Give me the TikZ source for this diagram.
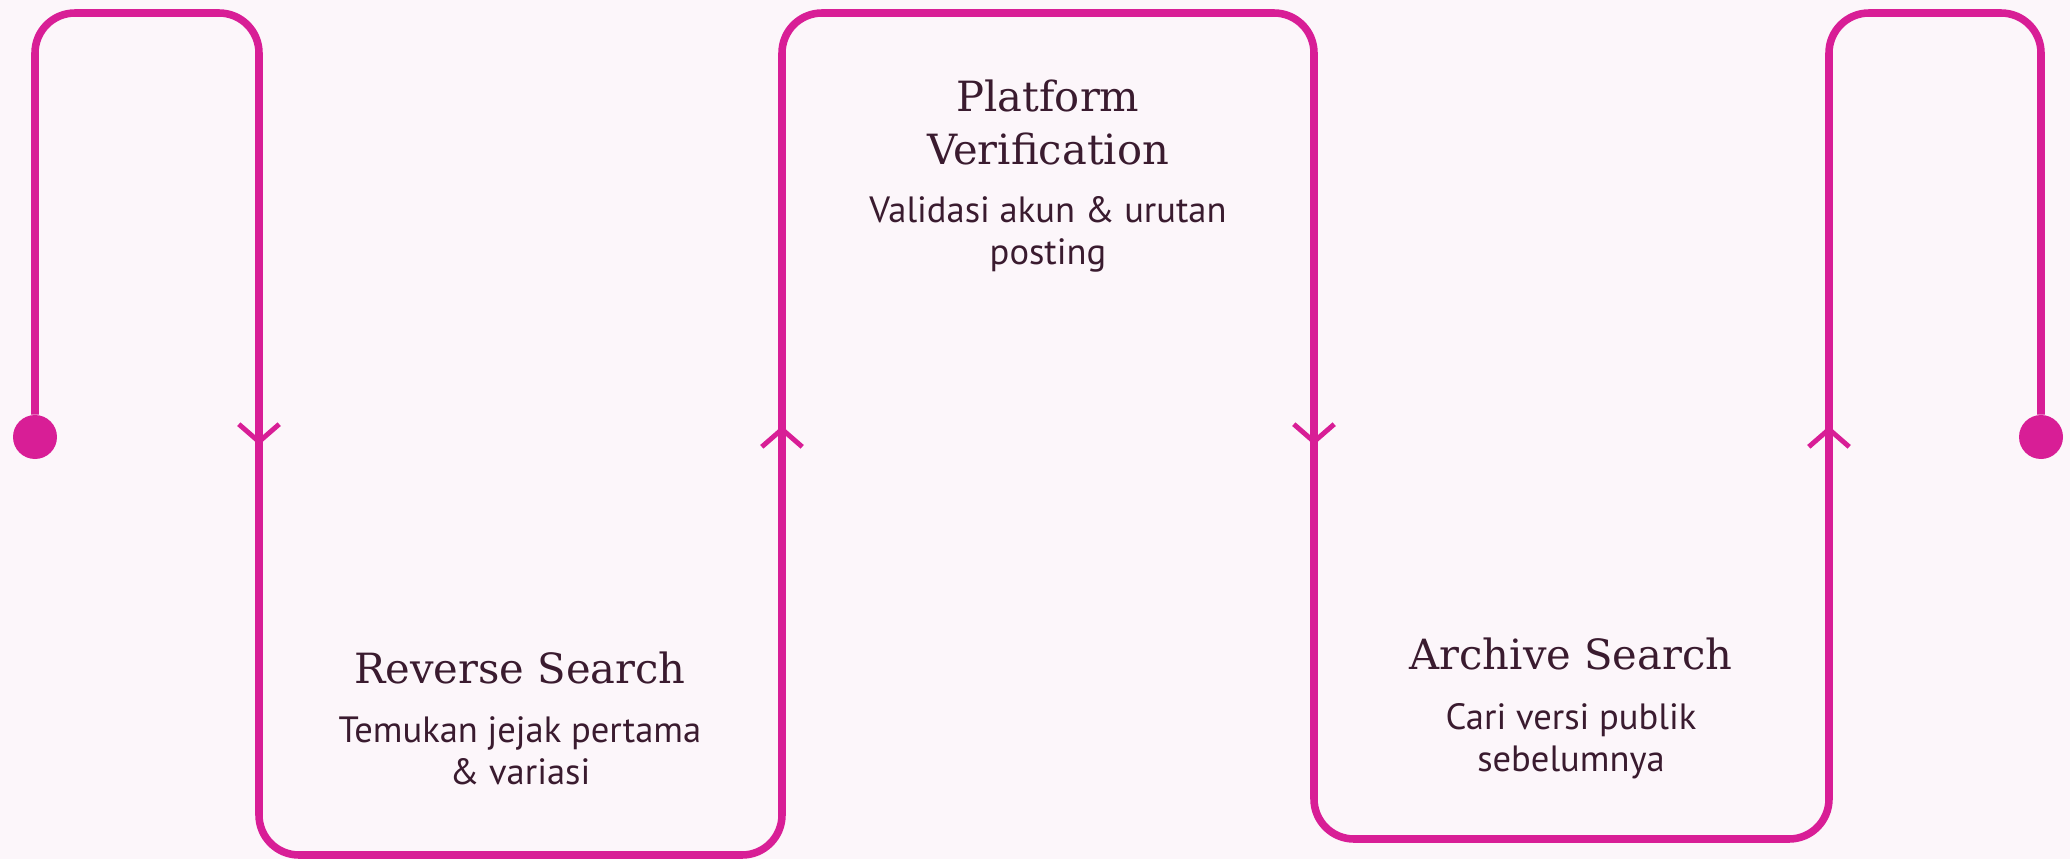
\documentclass[tikz,border=0pt]{standalone}
\usepackage{fontspec}
\newfontfamily\titlefont{DejaVu Serif}
\newfontfamily\descfont{PT Sans}
\usetikzlibrary{arrows.meta}
\definecolor{flowpink}{HTML}{D81E96}
\definecolor{inkplum}{HTML}{3A1B2F}
\definecolor{paper}{HTML}{FCF6FA}

\begin{document}
\begin{tikzpicture}[x=0.02cm, y=-0.02cm,
  flowline/.style = {
    draw = flowpink,
    line width = 4.3pt,
    rounded corners = 0.8cm,
  },
  flowtip/.style = {
    draw = flowpink,
    line width = 4.3pt,
    -{Straight Barb[length=10pt, width=23pt, line width=2.8pt]},
  },
  enddot/.style = {
    circle,
    fill = flowpink,
    inner sep = 0,
    minimum size = 0.88cm,
  },
  steptitle/.style = {
    anchor = base,
    align = center,
    text = inkplum,
    font = \titlefont\fontsize{23.7}{29.6}\selectfont,
  },
  stepdesc/.style = {
    anchor = base,
    align = center,
    text = inkplum,
    font = \descfont\fontsize{20.8}{23.9}\selectfont,
  },
]
\fill[paper] (0,0) rectangle (2070,859);
\useasboundingbox (0,0) rectangle (2070,859);

% ends of the path
\node[enddot] (start) at (35,437) {};
\node[enddot] (finish) at (2041,437) {};

% turning points
\coordinate (c1) at (35,13);
\coordinate (c2) at (259,13);
\coordinate (c3) at (259,855);
\coordinate (c4) at (782,855);
\coordinate (c5) at (782,13);
\coordinate (c6) at (1314,13);
\coordinate (c7) at (1314,839);
\coordinate (c8) at (1829,839);
\coordinate (c9) at (1829,13);
\coordinate (c10) at (2041,13);

% where the arrows sit
\coordinate (a1) at (259,445);
\coordinate (a2) at (782,426);
\coordinate (a3) at (1314,445);
\coordinate (a4) at (1829,426);

\draw[flowline] (start) -- (c1) -- (c2) -- (c3) -- (c4) -- (c5) -- (c6)
  -- (c7) -- (c8) -- (c9) -- (c10) -- (finish);

\draw[flowtip] ([yshift=0.6cm]a1) -- (a1);
\draw[flowtip] ([yshift=-0.6cm]a2) -- (a2);
\draw[flowtip] ([yshift=0.6cm]a3) -- (a3);
\draw[flowtip] ([yshift=-0.6cm]a4) -- (a4);

% steps (base = last line)
\node[steptitle] (reverse) at (520,683) {Reverse Search};
\node[stepdesc] (reversetxt) at ([yshift=-2.04cm]reverse.base)
  {Temukan jejak pertama\\\& variasi};

\node[steptitle] (platform) at (1048,164) {Platform\\Verification};
\node[stepdesc] (platformtxt) at ([yshift=-2.02cm]platform.base)
  {Validasi akun \& urutan\\posting};

\node[steptitle] (archive) at (1571,669) {Archive Search};
\node[stepdesc] (archivetxt) at ([yshift=-2.06cm]archive.base)
  {Cari versi publik\\sebelumnya};
\end{tikzpicture}
\end{document}
